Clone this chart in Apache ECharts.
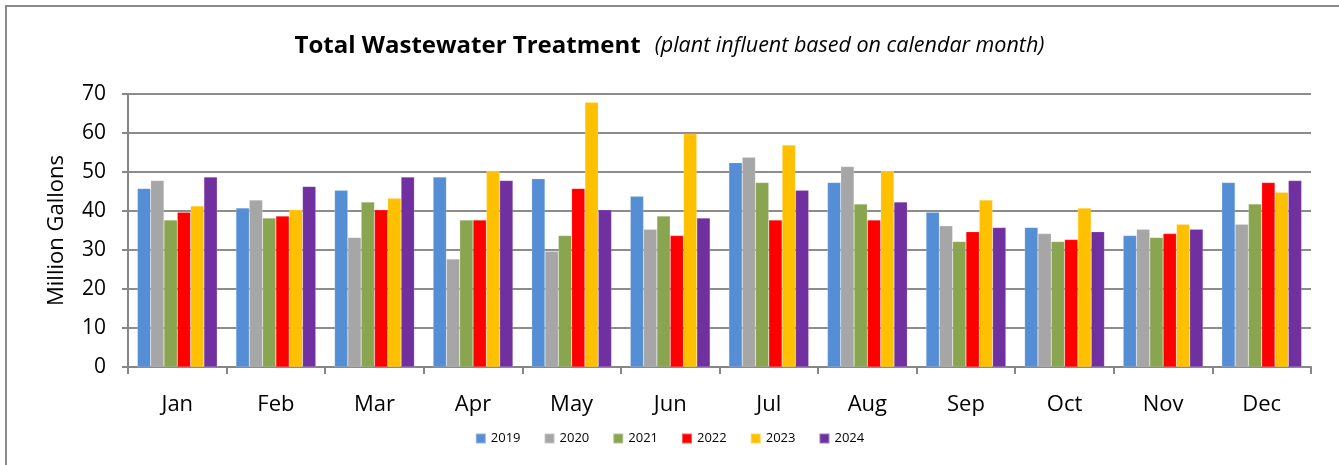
<!DOCTYPE html>
<html>
<head>
<meta charset="utf-8">
<script src="https://cdn.jsdelivr.net/npm/echarts@6/dist/echarts.min.js"></script>
<style>
  html, body { margin: 0; padding: 0; background: #fff; }
  .frame {
    position: absolute; left: 5px; top: 5px; width: 1400px; height: 500px;
    border-top: 2px solid #8a8a8a; border-left: 2px solid #8a8a8a;
  }
  #chart { position: absolute; left: 0; top: 0; width: 1339px; height: 465px; }
</style>
</head>
<body>
<div class="frame"></div>
<div id="chart"></div>
<script>
  const months = ['Jan', 'Feb', 'Mar', 'Apr', 'May', 'Jun', 'Jul', 'Aug', 'Sep', 'Oct', 'Nov', 'Dec']
  const yTicks = [0, 10, 20, 30, 40, 50, 60, 70]
  const years = ['2019', '2020', '2021', '2022', '2023', '2024']
  const v2019 = [45.8, 40.8, 45.3, 48.7, 48.3, 43.8, 52.4, 47.3, 39.7, 35.8, 33.7, 47.3]
  const v2020 = [47.8, 42.8, 33.2, 27.7, 29.7, 35.3, 53.8, 51.4, 36.2, 34.2, 35.3, 36.6]
  const v2021 = [37.7, 38.2, 42.3, 37.7, 33.7, 38.7, 47.3, 41.8, 32.2, 32.2, 33.2, 41.8]
  const v2022 = [39.7, 38.7, 40.3, 37.7, 45.8, 33.7, 37.7, 37.7, 34.7, 32.7, 34.2, 47.3]
  const v2023 = [41.3, 40.3, 43.3, 50.3, 67.9, 59.8, 56.9, 50.3, 42.8, 40.8, 36.6, 44.8]
  const v2024 = [48.7, 46.3, 48.7, 47.8, 40.3, 38.2, 45.3, 42.3, 35.8, 34.7, 35.3, 47.8]
  const colors = ['#558ED5', '#A6A6A6', '#8AA550', '#FF0000', '#FFC000', '#7030A0']

  const allValues = [v2019, v2020, v2021, v2022, v2023, v2024]
  const font = 'Open Sans'

  let myChart = echarts.init(document.getElementById('chart'))
  myChart.setOption({
    animation: false,
    color: colors,
    textStyle: { fontFamily: font },
    title: {
      left: 'center',
      top: 29,
      text: '{b|Total Wastewater Treatment}   {i|(plant influent based on calendar month)}',
      textStyle: {
        fontWeight: 'normal',
        rich: {
          b: { fontFamily: font, fontSize: 24, fontWeight: 'bold', color: '#000' },
          i: { fontFamily: font, fontSize: 21.5, fontWeight: 'normal', fontStyle: 'italic', color: '#000' }
        }
      }
    },
    legend: {
      top: 427,
      left: 'center',
      icon: 'rect',
      itemWidth: 10,
      itemHeight: 10,
      itemGap: 23,
      textStyle: { fontSize: 13, color: '#000', fontFamily: font },
      data: years
    },
    grid: {
      left: 128,
      right: 28,
      top: 94,
      bottom: 98
    },
    xAxis: {
      type: 'category',
      data: months,
      axisLine: { lineStyle: { color: '#868686', width: 2 } },
      axisTick: { show: true, length: 7, lineStyle: { color: '#868686', width: 2 } },
      axisLabel: { color: '#000', fontSize: 22, margin: 27, fontFamily: font }
    },
    yAxis: {
      type: 'value',
      min: yTicks[0],
      max: yTicks[yTicks.length - 1],
      interval: 10,
      name: 'Million Gallons',
      nameLocation: 'middle',
      nameGap: 60,
      nameTextStyle: { color: '#000', fontSize: 22, fontFamily: font },
      axisLine: { show: true, lineStyle: { color: '#868686', width: 2 } },
      axisTick: { show: true, length: 6, lineStyle: { color: '#868686', width: 2 } },
      axisLabel: { color: '#000', fontSize: 21, margin: 22, fontFamily: font },
      splitLine: { lineStyle: { color: '#8c8c8c', width: 2 } }
    },
    series: years.map((y, i) => ({
      name: y,
      type: 'bar',
      data: allValues[i],
      barGap: '0%',
      barCategoryGap: '19%',
      itemStyle: { borderColor: 'rgba(255,255,255,0.35)', borderWidth: 0.5 }
    }))
  })
</script>
</body>
</html>
